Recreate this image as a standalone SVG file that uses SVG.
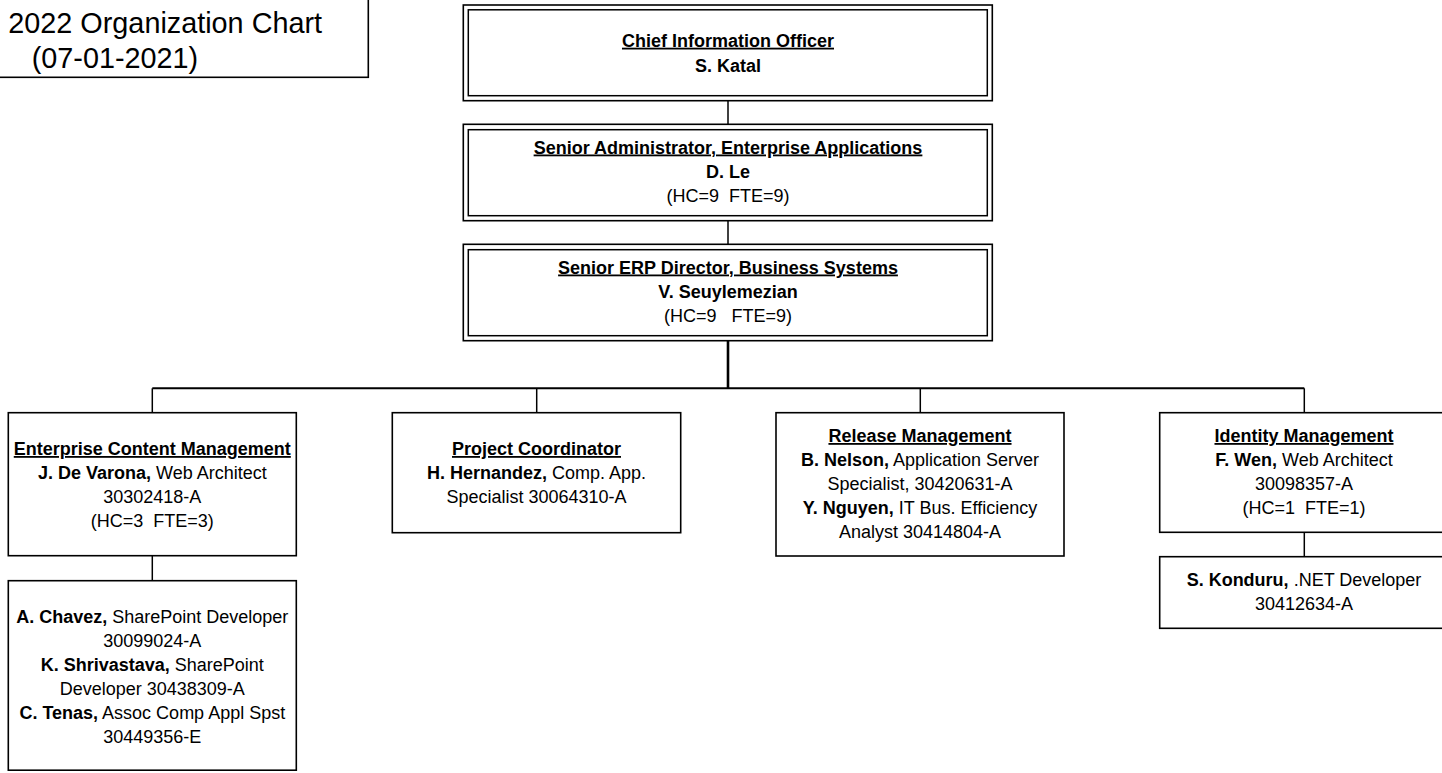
<svg xmlns="http://www.w3.org/2000/svg" width="1442" height="773" viewBox="0 0 1442 773">
<style>
  .box { fill: #ffffff; stroke: #000000; stroke-width: 1.6; }
  .dbl { fill: none; stroke: #000000; stroke-width: 1.5; }
  .conn { fill: none; stroke: #000000; stroke-width: 1.5; }
  .bus { fill: none; stroke: #000000; stroke-width: 2; }
  .trunk { fill: none; stroke: #000000; stroke-width: 2.6; }
  text { font-family: "Liberation Sans", Arial, sans-serif; font-size: 18px; fill: #000000; text-anchor: middle; }
  .title { font-size: 28.8px; text-anchor: start; }
  .b { font-weight: bold; }
  .h { font-weight: bold; text-decoration: underline; }
</style>
<rect x="0" y="0" width="1442" height="773" fill="#ffffff"/>

<g id="title">
  <rect class="box" x="-5" y="-5" width="373.3" height="82.3"/>
  <text class="title" x="8.3" y="33.3">2022 Organization Chart</text>
  <text class="title" x="31.7" y="68.3">(07-01-2021)</text>
</g>

<g id="connectors">
  <line class="conn" x1="728" y1="100.7" x2="728" y2="124.3"/>
  <line class="conn" x1="728" y1="220.7" x2="728" y2="244.3"/>
  <line class="trunk" x1="728" y1="340.7" x2="728" y2="388.3"/>
  <line class="bus" x1="152.3" y1="388.3" x2="1304.3" y2="388.3"/>
  <line class="conn" x1="152.3" y1="388.3" x2="152.3" y2="412.7"/>
  <line class="conn" x1="536.7" y1="388.3" x2="536.7" y2="412.7"/>
  <line class="conn" x1="920.3" y1="388.3" x2="920.3" y2="412.7"/>
  <line class="conn" x1="1304.3" y1="388.3" x2="1304.3" y2="412.7"/>
  <line class="conn" x1="152.3" y1="555.7" x2="152.3" y2="580.7"/>
  <line class="conn" x1="1304.3" y1="532.3" x2="1304.3" y2="556.7"/>
</g>

<g id="cio">
  <rect class="box" x="463.3" y="5" width="529" height="95.7"/>
  <rect class="dbl" x="468.3" y="9.8" width="519" height="85.9"/>
  <text x="728" y="46.7"><tspan class="h">Chief Information Officer</tspan></text>
  <text x="728" y="71.7" class="b">S. Katal</text>
</g>

<g id="senior-admin">
  <rect class="box" x="463.3" y="124.3" width="529" height="96.4"/>
  <rect class="dbl" x="468.3" y="129.7" width="519" height="86"/>
  <text x="728" y="153.5"><tspan class="h">Senior Administrator, Enterprise Applications</tspan></text>
  <text x="728" y="178" class="b">D. Le</text>
  <text x="728" y="202" xml:space="preserve">(HC=9  FTE=9)</text>
</g>

<g id="erp-director">
  <rect class="box" x="463.3" y="244.3" width="529" height="96.4"/>
  <rect class="dbl" x="468.3" y="249.7" width="519" height="86"/>
  <text x="728" y="273.5"><tspan class="h">Senior ERP Director, Business Systems</tspan></text>
  <text x="728" y="298" class="b">V. Seuylemezian</text>
  <text x="728" y="322" xml:space="preserve">(HC=9   FTE=9)</text>
</g>

<g id="ecm">
  <rect class="box" x="8.3" y="412.7" width="288" height="143"/>
  <text x="152.3" y="455"><tspan class="h">Enterprise Content Management</tspan></text>
  <text x="152.3" y="479"><tspan class="b">J. De Varona,</tspan> Web Architect</text>
  <text x="152.3" y="503">30302418-A</text>
  <text x="152.3" y="527" xml:space="preserve">(HC=3  FTE=3)</text>
</g>

<g id="ecm-staff">
  <rect class="box" x="8.3" y="580.7" width="288" height="189.5"/>
  <text x="152.3" y="622.5"><tspan class="b">A. Chavez,</tspan> SharePoint Developer</text>
  <text x="152.3" y="646.5">30099024-A</text>
  <text x="152.3" y="670.5"><tspan class="b">K. Shrivastava,</tspan> SharePoint</text>
  <text x="152.3" y="694.5">Developer 30438309-A</text>
  <text x="152.3" y="718.5"><tspan class="b">C. Tenas,</tspan> Assoc Comp Appl Spst</text>
  <text x="152.3" y="742.5">30449356-E</text>
</g>

<g id="project-coordinator">
  <rect class="box" x="392.3" y="412.7" width="288.4" height="120"/>
  <text x="536.5" y="455"><tspan class="h">Project Coordinator</tspan></text>
  <text x="536.5" y="479"><tspan class="b">H. Hernandez,</tspan> Comp. App.</text>
  <text x="536.5" y="503">Specialist 30064310-A</text>
</g>

<g id="release-management">
  <rect class="box" x="776" y="412.7" width="288" height="143.3"/>
  <text x="920" y="442"><tspan class="h">Release Management</tspan></text>
  <text x="920" y="466"><tspan class="b">B. Nelson,</tspan> Application Server</text>
  <text x="920" y="490">Specialist, 30420631-A</text>
  <text x="920" y="514"><tspan class="b">Y. Nguyen,</tspan> IT Bus. Efficiency</text>
  <text x="920" y="538">Analyst 30414804-A</text>
</g>

<g id="identity-management">
  <rect class="box" x="1159.7" y="412.7" width="288.3" height="119.6"/>
  <text x="1304" y="442"><tspan class="h">Identity Management</tspan></text>
  <text x="1304" y="466"><tspan class="b">F. Wen,</tspan> Web Architect</text>
  <text x="1304" y="490">30098357-A</text>
  <text x="1304" y="514" xml:space="preserve">(HC=1  FTE=1)</text>
</g>

<g id="identity-staff">
  <rect class="box" x="1159.7" y="556.7" width="288.3" height="71.6"/>
  <text x="1304" y="586"><tspan class="b">S. Konduru,</tspan> .NET Developer</text>
  <text x="1304" y="610">30412634-A</text>
</g>
</svg>
